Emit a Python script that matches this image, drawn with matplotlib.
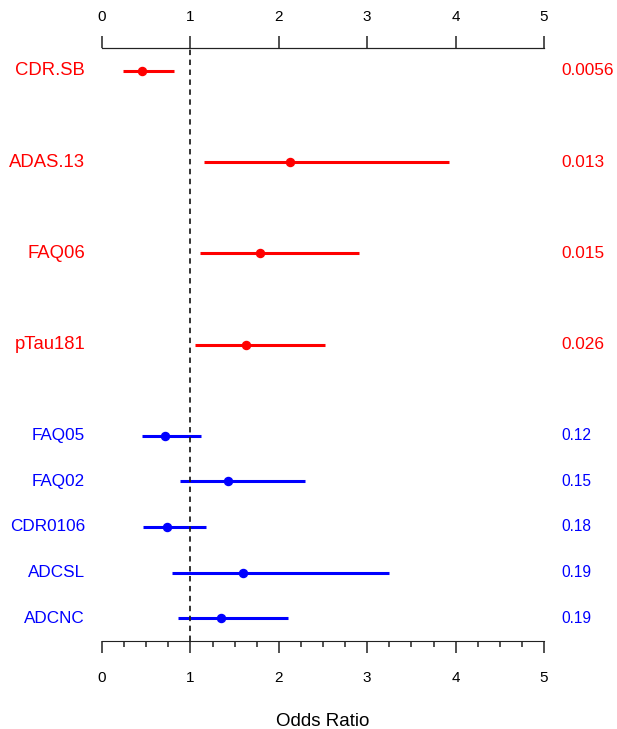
import matplotlib
matplotlib.use("Agg")
import matplotlib.pyplot as plt
import numpy as np

plt.rcParams['font.family'] = ['Liberation Sans', 'DejaVu Sans']

# forest plot data: odds ratio with 95% CI, p-value
labels = ["CDR.SB", "ADAS.13", "FAQ06", "pTau181",
          "FAQ05", "FAQ02", "CDR0106", "ADCSL", "ADCNC"]
odds = [0.45, 2.13, 1.79, 1.63, 0.71, 1.42, 0.74, 1.60, 1.35]
lower = [0.24, 1.15, 1.11, 1.05, 0.45, 0.88, 0.46, 0.79, 0.86]
upper = [0.81, 3.93, 2.91, 2.52, 1.12, 2.30, 1.18, 3.25, 2.10]
pvals = ["0.0056", "0.013", "0.015", "0.026",
         "0.12", "0.15", "0.18", "0.19", "0.19"]
significant = [True, True, True, True, False, False, False, False, False]

# row positions: significant rows get double spacing
rows = [0, 2, 4, 6, 8, 9, 10, 11, 12]

fig = plt.figure(figsize=(6.17, 7.29), dpi=100)
ax = fig.add_axes([102 / 617, 1 - 641 / 729, 442 / 617, 593 / 729])

for y, o, lo, hi, lab, p, sig in zip(rows, odds, lower, upper, labels, pvals, significant):
    col = "#ff0000" if sig else "#0000ff"
    ax.plot([lo, hi], [y, y], color=col, lw=2.2, solid_capstyle="butt")
    ax.plot(o, y, "o", color=col, ms=5.8)
    ax.text(-0.19, y, lab, color=col, ha="right", va="center",
            fontsize=13.3 if sig else 12.3)
    ax.text(5.2, y, p, color=col, ha="left", va="center",
            fontsize=12.4 if sig else 11.2)

ax.axvline(1, color="#222222", lw=1.3, ls=(0, (3, 2.5)))

ax.set_xlim(0, 5)
ax.set_ylim(12.5, -0.5)
ax.set_yticks([])
for s in ["left", "right"]:
    ax.spines[s].set_visible(False)
ax.spines["top"].set_color("#222222")
ax.spines["bottom"].set_color("#222222")

# bottom axis: major + minor ticks
ax.set_xticks(np.arange(0, 6, 1))
ax.set_xticks(np.arange(0, 5.01, 0.25), minor=True)
ax.tick_params(axis="x", which="major", length=8.5, width=1.1,
               pad=13, labelsize=11, color="#222222")
ax.tick_params(axis="x", which="minor", length=4.3, width=1.1, color="#222222")

# top axis: major ticks only
ax2 = ax.twiny()
ax2.set_xlim(0, 5)
ax2.set_xticks(np.arange(0, 6, 1))
ax2.tick_params(axis="x", which="major", length=8.5, width=1.1,
                pad=9, labelsize=11, color="#222222")
for s in ["left", "right", "bottom"]:
    ax2.spines[s].set_visible(False)
ax2.spines["top"].set_color("#222222")

ax.set_xlabel("Odds Ratio", fontsize=13.5, labelpad=20)

fig.savefig("out.png", dpi=100)
